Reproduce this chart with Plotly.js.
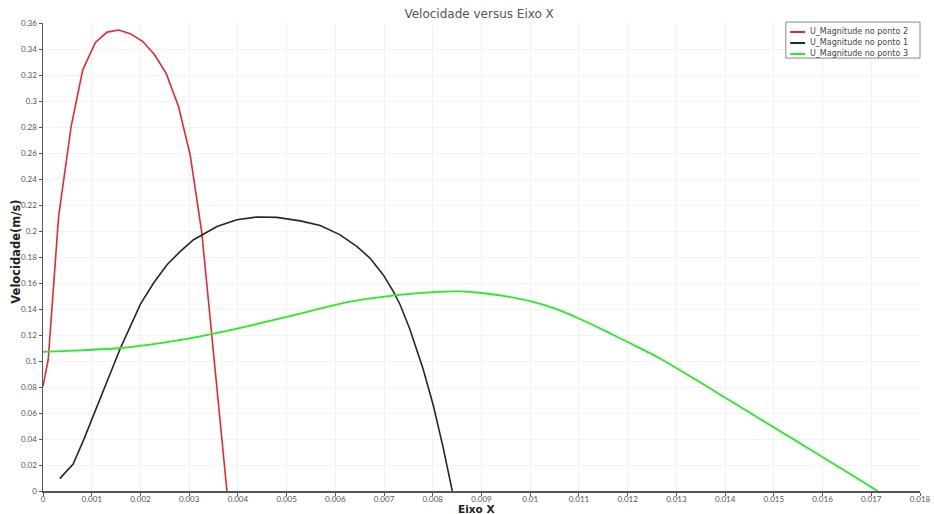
<!DOCTYPE html>
<html>
<head>
<meta charset="utf-8">
<script src="https://cdn.plot.ly/plotly-3.0.1.min.js"></script>
<style>html,body{margin:0;padding:0;background:#fff;}#chart{width:934px;height:514px;}</style>
</head>
<body>
<div id="chart"></div>
<script>
// Series names (legend order)
const seriesNames = ['U_Magnitude no ponto 2', 'U_Magnitude no ponto 1', 'U_Magnitude no ponto 3'];
const seriesColors = ['#e8282c', '#262626', '#22ee22'];

// Series: U_Magnitude no ponto 2 (red)
const ponto2X = [0, 0.000107, 0.00032, 0.000578, 0.000816, 0.001076, 0.001316, 0.001553, 0.00179, 0.002045, 0.00229, 0.00253, 0.00278, 0.00302, 0.00326, 0.0035, 0.003775];
const ponto2Y = [0.0805, 0.101, 0.211, 0.2805, 0.324, 0.345, 0.353, 0.3546, 0.3518, 0.3459, 0.3356, 0.321, 0.2959, 0.2587, 0.1985, 0.105, 0.0];

// Series: U_Magnitude no ponto 1 (black)
const ponto1X = [0.000344, 0.000619, 0.000836, 0.00111, 0.00135, 0.00159, 0.00176, 0.0020, 0.00227, 0.002545, 0.002818, 0.00309, 0.0033, 0.00357, 0.00398, 0.00439, 0.0048, 0.00507, 0.00528, 0.00569, 0.00609, 0.00644, 0.00671, 0.00698, 0.00719, 0.00733, 0.00753, 0.0078, 0.00801, 0.00821, 0.0084];
const ponto1Y = [0.0095, 0.0208, 0.0395, 0.065, 0.088, 0.110, 0.124, 0.1438, 0.160, 0.1741, 0.1843, 0.1933, 0.1977, 0.2035, 0.2087, 0.2108, 0.2105, 0.2092, 0.2078, 0.2043, 0.1972, 0.1882, 0.1792, 0.1664, 0.1535, 0.1433, 0.1245, 0.094, 0.066, 0.034, 0.0];

// Series: U_Magnitude no ponto 3 (green)
const ponto3X = [0, 0.00077, 0.00159, 0.00241, 0.00295, 0.0035, 0.00405, 0.00459, 0.00528, 0.0063, 0.00726, 0.00801, 0.00856, 0.009, 0.00951, 0.01002, 0.01054, 0.01101, 0.01156, 0.01204, 0.01259, 0.01334, 0.01402, 0.0147, 0.01539, 0.01607, 0.01675, 0.01713];
const ponto3Y = [0.107, 0.1082, 0.110, 0.1138, 0.117, 0.121, 0.1254, 0.1302, 0.1365, 0.1456, 0.1506, 0.153, 0.1535, 0.1523, 0.1497, 0.1458, 0.1399, 0.1325, 0.1228, 0.1138, 0.1035, 0.087, 0.0714, 0.0558, 0.0401, 0.0245, 0.0088, 0.0];

// Tick labels
const xTickVals = [0, 0.001, 0.002, 0.003, 0.004, 0.005, 0.006, 0.007, 0.008, 0.009, 0.01, 0.011, 0.012, 0.013, 0.014, 0.015, 0.016, 0.017, 0.018];
const xTickText = ['0', '0.001', '0.002', '0.003', '0.004', '0.005', '0.006', '0.007', '0.008', '0.009', '0.01', '0.011', '0.012', '0.013', '0.014', '0.015', '0.016', '0.017', '0.018'];
const yTickVals = [0, 0.02, 0.04, 0.06, 0.08, 0.1, 0.12, 0.14, 0.16, 0.18, 0.2, 0.22, 0.24, 0.26, 0.28, 0.3, 0.32, 0.34, 0.36];
const yTickText = ['0', '0.02', '0.04', '0.06', '0.08', '0.1', '0.12', '0.14', '0.16', '0.18', '0.2', '0.22', '0.24', '0.26', '0.28', '0.3', '0.32', '0.34', '0.36'];

const FONT = 'Lato, "DejaVu Sans", sans-serif';
const WIDE = '"DejaVu Sans", sans-serif';

const seriesX = [ponto2X, ponto1X, ponto3X];
const seriesY = [ponto2Y, ponto1Y, ponto3Y];
const lineShapes = ['linear', 'linear', 'spline'];
const lineWidths = [1.6, 1.6, 1.8];

const traces = seriesNames.map((n, i) => ({
  x: seriesX[i], y: seriesY[i], type: 'scatter', mode: 'lines', name: n,
  line: {color: seriesColors[i], width: lineWidths[i], shape: lineShapes[i], smoothing: 0.5},
  showlegend: false
}));

// Custom compact legend (paper coordinates)
const lgX0 = 0.847, lgX1 = 1.0, lgY0 = 0.925, lgY1 = 1.002;
const rowY = [0.9808, 0.9573, 0.9338];
const shapes = [{type: 'rect', xref: 'paper', yref: 'paper', x0: lgX0, x1: lgX1, y0: lgY0, y1: lgY1,
                 line: {color: '#888', width: 1}, fillcolor: '#ffffff', layer: 'above'}];
const annotations = [];
seriesNames.forEach((n, i) => {
  shapes.push({type: 'line', xref: 'paper', yref: 'paper', x0: 0.852, x1: 0.869, y0: rowY[i], y1: rowY[i],
               line: {color: seriesColors[i], width: 2}, layer: 'above'});
  annotations.push({xref: 'paper', yref: 'paper', x: 0.8725, y: rowY[i], xanchor: 'left', yanchor: 'middle',
                    text: n, showarrow: false, font: {family: WIDE, size: 8, color: '#444'}});
});
annotations.push({xref: 'paper', yref: 'paper', x: 0.494, y: -0.0375, xanchor: 'center', yanchor: 'middle', borderpad: 0,
                  text: '<b>Eixo X</b>', showarrow: false, font: {family: WIDE, size: 10.5, color: '#222'}});
annotations.push({xref: 'paper', yref: 'paper', x: -0.031, y: 0.511, xanchor: 'center', yanchor: 'middle',
                  text: '<b>Velocidade(m/s)</b>', textangle: -90, showarrow: false, font: {family: WIDE, size: 11.5, color: '#222'}});

const layout = {
  width: 934, height: 514,
  margin: {l: 43, r: 14, t: 23, b: 23, pad: 0},
  paper_bgcolor: '#ffffff', plot_bgcolor: '#ffffff',
  font: {family: FONT, color: '#444'},
  title: {text: 'Velocidade versus Eixo X', font: {family: WIDE, size: 12, color: '#555'}, x: 0.513, xanchor: 'center', y: 0.973, yanchor: 'middle'},
  showlegend: false,
  shapes: shapes,
  annotations: annotations,
  xaxis: {
    range: [0, 0.018], tickmode: 'array', tickvals: xTickVals, ticktext: xTickText,
    showgrid: true, gridcolor: '#f2f2f2', gridwidth: 1, zeroline: false,
    showline: true, linecolor: '#555', linewidth: 1.5, ticks: 'outside', ticklen: 3, tickcolor: '#555',
    ticklabelstandoff: -3,
    tickfont: {family: FONT, size: 8, color: '#555'}, automargin: false
  },
  yaxis: {
    range: [0, 0.36], tickmode: 'array', tickvals: yTickVals, ticktext: yTickText,
    showgrid: true, gridcolor: '#f2f2f2', gridwidth: 1, zeroline: false,
    showline: true, linecolor: '#555', linewidth: 1.5, ticks: 'outside', ticklen: 3, tickcolor: '#555',
    tickfont: {family: FONT, size: 8, color: '#555'}, automargin: false
  }
};

Plotly.newPlot('chart', traces, layout, {displayModeBar: false, staticPlot: true});
</script>
</body>
</html>
